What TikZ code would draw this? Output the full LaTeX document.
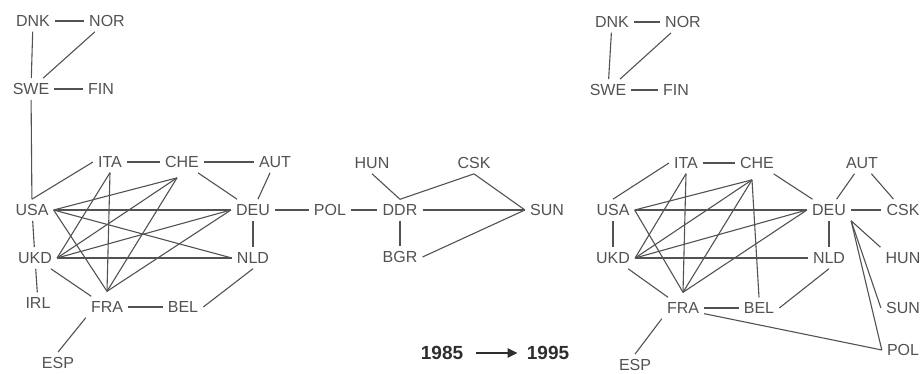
\documentclass[tikz,border=0pt]{standalone}
\usepackage{fontspec}
\setmainfont{Liberation Sans}
\usetikzlibrary{positioning,arrows.meta}
\definecolor{ink}{gray}{0.32}
\definecolor{darkink}{gray}{0.18}

\begin{document}
\begin{tikzpicture}[x=1pt,y=1pt,on grid,
  country/.style={text=ink,font=\fontsize{16}{18}\selectfont,inner sep=5pt},
  yearlabel/.style={text=darkink,font=\fontsize{19}{21}\selectfont\bfseries,inner sep=5pt},
  link/.style={draw=ink,line width=1.1pt}]
  \useasboundingbox (0,0) rectangle (923,-374);

  % 1985
  \node[country] (dnk85) at (33,-21) {DNK};
  \node[country] (nor85) [right=74pt of dnk85] {NOR};
  \node[country] (swe85) [below left=68pt and 2pt of dnk85] {SWE};
  \node[country] (fin85) [right=70pt of swe85] {FIN};
  \node[country] (usa85) [below right=121pt and 1pt of swe85] {USA};
  \node[country] (ukd85) [below right=48pt and 3pt of usa85] {UKD};
  \node[country] (ita85) [above right=48pt and 78pt of usa85] {ITA};
  \node[country] (che85) [right=72pt of ita85] {CHE};
  \node[country] (aut85) [right=93pt of che85] {AUT};
  \node[country] (deu85) [right=221pt of usa85] {DEU};
  \node[country] (nld85) [below=48pt of deu85] {NLD};
  \node[country] (pol85) [right=77pt of deu85] {POL};
  \node[country] (irl85) [below right=45pt and 3pt of ukd85] {IRL};
  \node[country] (fra85) [below right=49pt and 72pt of ukd85] {FRA};
  \node[country] (bel85) [right=76pt of fra85] {BEL};
  \node[country] (esp85) [below left=56pt and 49pt of fra85] {ESP};
  \node[country] (ddr85) [right=70pt of pol85] {DDR};
  \node[country] (hun85) [above left=47pt and 28pt of ddr85] {HUN};
  \node[country] (csk85) [above right=47pt and 74pt of ddr85] {CSK};
  \node[country] (sun85) [right=147pt of ddr85] {SUN};
  \node[country] (bgr85) [below=47pt of ddr85] {BGR};
  \coordinate (che85f) at ([shift={(-5pt,-5pt)}]che85.south);
  \coordinate (fra85t) at ([yshift=5pt]fra85.north);

  % 1995
  \node[country] (dnk95) at (612,-22) {DNK};
  \node[country] (nor95) [right=71pt of dnk95] {NOR};
  \node[country] (swe95) [below left=68pt and 4pt of dnk95] {SWE};
  \node[country] (fin95) [right=68pt of swe95] {FIN};
  \node[country] (usa95) [below right=120pt and 5pt of swe95] {USA};
  \node[country] (ukd95) [below=48pt of usa95] {UKD};
  \node[country] (ita95) [above right=47pt and 73pt of usa95] {ITA};
  \node[country] (che95) [right=71pt of ita95] {CHE};
  \node[country] (aut95) [right=105pt of che95] {AUT};
  \node[country] (deu95) [right=216pt of usa95] {DEU};
  \node[country] (csk95) [right=74pt of deu95] {CSK};
  \node[country] (nld95) [below=48pt of deu95] {NLD};
  \node[country] (hun95) [right=74pt of nld95] {HUN};
  \node[country] (fra95) [below right=50pt and 70pt of ukd95] {FRA};
  \node[country] (bel95) [right=76pt of fra95] {BEL};
  \node[country] (sun95) [below=50pt of hun95] {SUN};
  \node[country] (pol95) [below=42pt of sun95] {POL};
  \node[country] (esp95) [below left=57pt and 48pt of fra95] {ESP};
  \coordinate (che95f) at ([shift={(-5pt,-6pt)}]che95.south);
  \coordinate (fra95t) at ([yshift=5pt]fra95.north);

  \node[yearlabel] (y85) at (442,-353) {1985};
  \node[yearlabel] (y95) [right=106pt of y85] {1995};
  \draw[-{Triangle[length=10pt,width=9pt]},line width=2.2pt,darkink,
    shorten <=8pt,shorten >=4pt] (y85) -- (y95);

  \path[link]
  (dnk85) edge (nor85) edge (swe85)
  (nor85) edge (swe85)
  (swe85) edge (fin85) edge (usa85)
  (usa85.north) edge (ita85.west)
  (usa85) edge (ukd85)
  (ita85) edge (che85)
  (che85) edge (aut85) edge (deu85)
  (aut85) edge (deu85)
  (deu85) edge (pol85) edge (nld85)
  (ukd85) edge (irl85) edge (fra85)
  (fra85) edge (bel85)
  (fra85.south west) edge (esp85.north)
  (bel85.east) edge (nld85.south)
  (usa85.east) edge (che85f) edge (deu85.west) edge (nld85.west) edge (fra85t)
  (ukd85.east) edge (ita85.south) edge (che85f) edge (deu85.west) edge (nld85.west)
  (fra85t) edge (ita85.south) edge (che85f) edge (deu85.west)
  (pol85) edge (ddr85)
  (ddr85) edge (bgr85)
  (ddr85.east) edge [line width=1.7pt] (sun85.west)
  (hun85.south) edge (ddr85.north)
  (csk85.south) edge (ddr85.north) edge (sun85.west)
  (bgr85.east) edge (sun85.west);

  \path[link]
  (dnk95) edge (nor95) edge (swe95)
  (nor95) edge (swe95)
  (swe95) edge (fin95)
  (usa95.north) edge (ita95.west)
  (usa95) edge (ukd95)
  (ita95) edge (che95)
  (che95) edge (deu95)
  (aut95) edge (deu95) edge (csk95)
  (deu95) edge (csk95) edge (nld95)
  (deu95.south east) edge (hun95.north west) edge (sun95.west) edge (pol95.west)
  (ukd95) edge (fra95)
  (fra95) edge (bel95)
  (fra95.south west) edge (esp95.north)
  (fra95.345) edge (pol95.west)
  (bel95.east) edge (nld95.south)
  (usa95.east) edge (che95f) edge (deu95.west) edge (fra95t)
  (ukd95.east) edge (ita95.south) edge (che95f) edge (deu95.west) edge (nld95.west)
  (fra95t) edge (ita95.south) edge (che95f) edge (deu95.west)
  (che95f) edge (bel95.north);
\end{tikzpicture}
\end{document}
